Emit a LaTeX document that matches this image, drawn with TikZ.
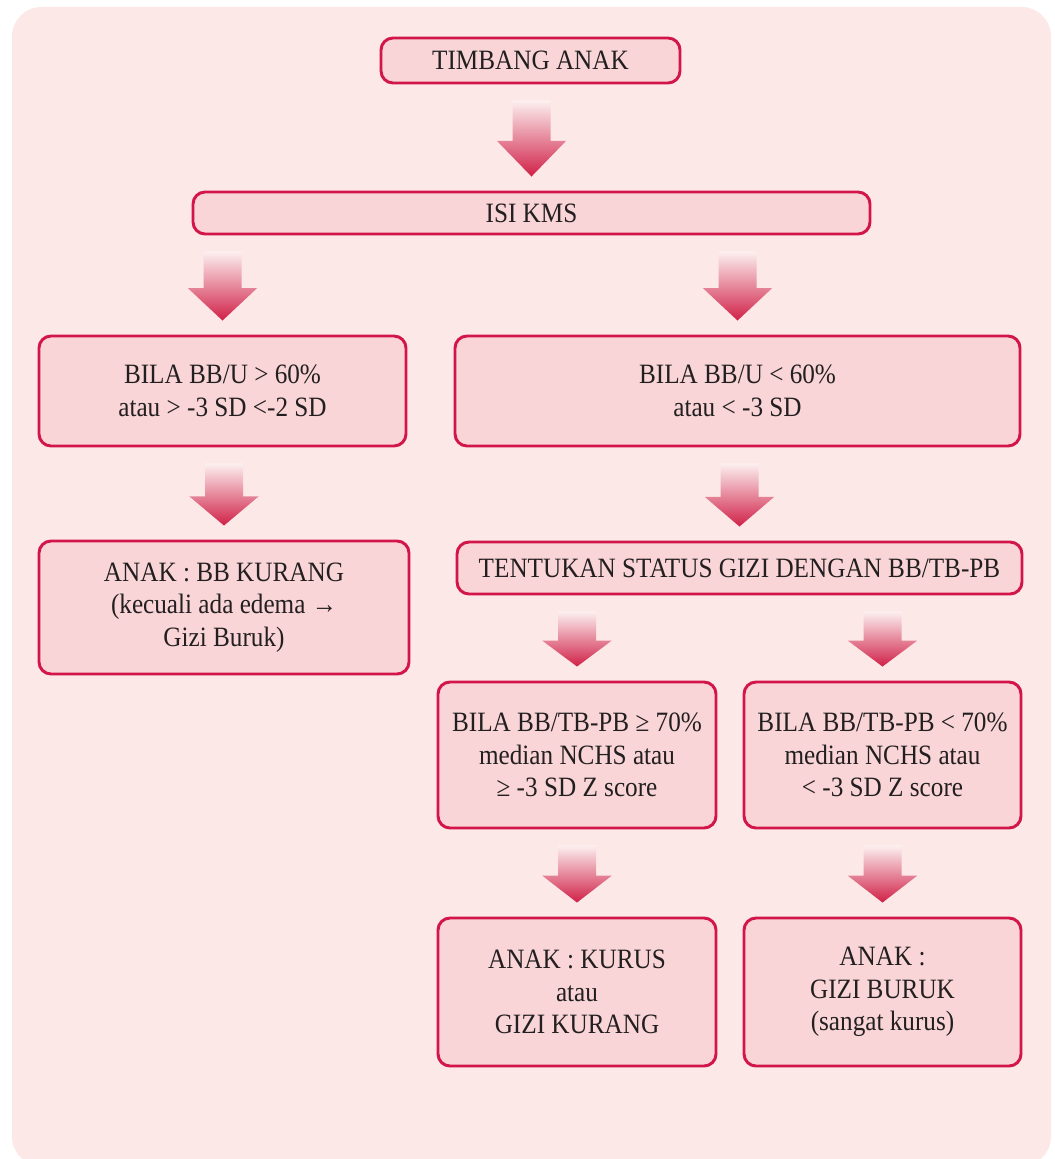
\documentclass[tikz,border=0pt]{standalone}
\usepackage{fontspec}
\setmainfont{Liberation Serif}[FakeStretch=0.9]
\usetikzlibrary{calc}

\definecolor{pagebg}{HTML}{FDE8E8}
\definecolor{boxfill}{HTML}{F9D5D7}
\definecolor{boxline}{HTML}{D3164A}
\definecolor{inktext}{HTML}{231F20}
\definecolor{arrowtop}{HTML}{FCF0F0}
\definecolor{arrowmid}{HTML}{E8959C}
\definecolor{arrowbot}{HTML}{D02047}

\tikzset{
  stepbox/.style 2 args={draw=boxline, line width=2.2pt, fill=boxfill,
    rounded corners=9pt, inner sep=0pt, align=center, text=inktext,
    minimum width={#1*0.75pt}, minimum height={#2*0.75pt},
    font=\fontsize{21pt}{24.3pt}\selectfont},
  arrowfill/.style={top color=arrowtop, middle color=arrowmid,
    bottom color=arrowbot, draw=none}
}

% block arrow centred on the target box, hanging between two boxes
\newcommand\blockarrow[2]{%
  \path[arrowfill] let \p1=(#1.south), \p2=(#2.north),
    \n1={\y1-12pt}, \n2={\y2+10.5pt}, \n3={\n2+0.47*(\n1-\n2)} in
    ({\x2-14.25pt},{\n1*1pt}) -- ({\x2+14.25pt},{\n1*1pt})
    -- ({\x2+14.25pt},{\n3*1pt}) -- ({\x2+26pt},{\n3*1pt})
    -- (\x2,{\n2*1pt}) -- ({\x2-26pt},{\n3*1pt})
    -- ({\x2-14.25pt},{\n3*1pt}) -- cycle;}

\begin{document}
\begin{tikzpicture}[x=0.75pt, y=-0.75pt]
  \useasboundingbox (0,0) rectangle (1054,1159);
  \fill[pagebg, rounded corners=22pt] (12,7) rectangle (1051,1166);

  \node[stepbox={299}{45}] (timbang) at (530.5,60.5) {TIMBANG ANAK};
  \node[stepbox={677}{42}] (isi) at (531.5,213) {ISI KMS};
  \node[stepbox={367}{110}] (bbu1) at (222.5,391)
    {BILA BB/U > 60\%\\atau > -3 SD <-2 SD};
  \node[stepbox={565}{110}] (bbu2) at (737.5,391)
    {BILA BB/U < 60\%\\atau < -3 SD};
  \node[stepbox={370}{133}] (kurang) at (224,607.5)
    {ANAK : BB KURANG\\(kecuali ada edema →\\Gizi Buruk)};
  \node[stepbox={565}{52}] (tentukan) at (739.5,568)
    {TENTUKAN STATUS GIZI DENGAN BB/TB-PB};
  \node[stepbox={278}{146}] (ge70) at (577,755)
    {BILA BB/TB-PB ≥ 70\%\\median NCHS atau\\≥ -3 SD Z score};
  \node[stepbox={277}{146}] (lt70) at (882.5,755)
    {BILA BB/TB-PB < 70\%\\median NCHS atau\\< -3 SD Z score};
  \node[stepbox={278}{148}] (kurus) at (577,992)
    {ANAK : KURUS\\atau\\GIZI KURANG};
  \node[stepbox={277}{148}] (buruk) at (882.5,992)
    {ANAK :\\GIZI BURUK\\(sangat kurus)};

  \blockarrow{timbang}{isi}
  \blockarrow{isi}{bbu1}
  \blockarrow{isi}{bbu2}
  \blockarrow{bbu1}{kurang}
  \blockarrow{bbu2}{tentukan}
  \blockarrow{tentukan}{ge70}
  \blockarrow{tentukan}{lt70}
  \blockarrow{ge70}{kurus}
  \blockarrow{lt70}{buruk}
\end{tikzpicture}
\end{document}
